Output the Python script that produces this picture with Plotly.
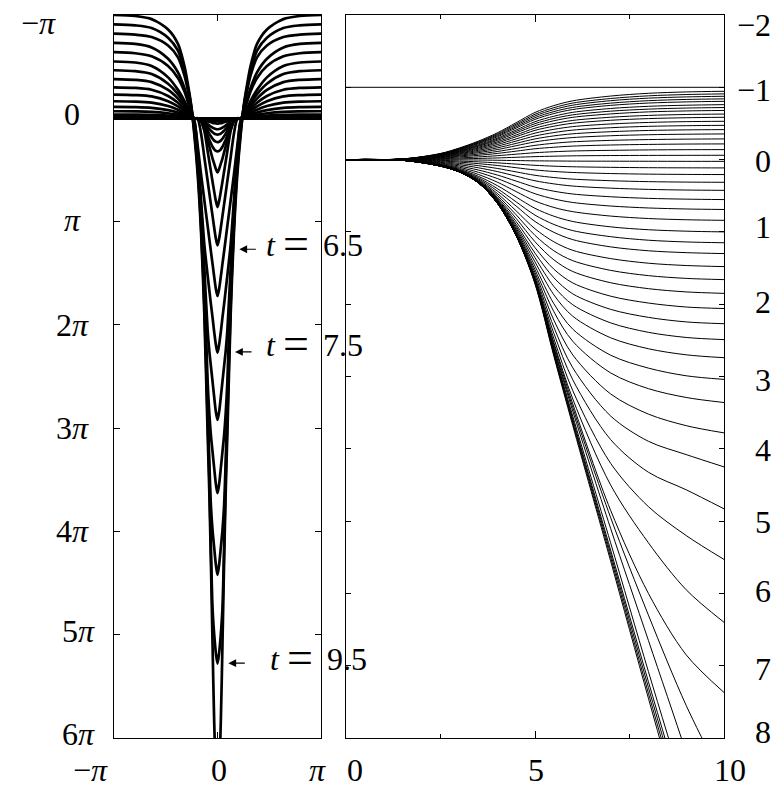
import math
import plotly.graph_objects as go

PI = math.pi

# ---------------- left panel data (x in radians, y in units of pi) ----------------
LEFT_TIMES = [0, 0.5, 1, 1.5, 2, 2.5, 3, 3.5, 4, 4.5, 5, 5.5, 6, 6.5, 7, 7.5, 8, 8.5, 9, 9.5, 10]
LEFT_X_HALF = [0, 0.05, 0.1, 0.15, 0.2, 0.25, 0.3, 0.4, 0.5, 0.6, 0.7, 0.8, 0.9, 1.0, 1.2, 1.5, 2.0, 2.5, 3.14159265]
LEFT_Y_HALF = [
    [0] * 19,
    [0.002, 0.002, 0.002, 0.002, 0.002, 0.001, 0.001, 0.001, 0, 0, 0, 0, 0, 0, 0, 0, 0, 0, 0],
    [0.005, 0.005, 0.005, 0.004, 0.004, 0.003, 0.003, 0.001, 0, 0, 0, 0, 0, 0, 0, 0, 0, 0, 0],
    [0.01, 0.01, 0.009, 0.009, 0.008, 0.006, 0.005, 0.003, 0.001, 0, 0, 0, 0, 0, 0, 0, 0, 0, 0],
    [0.015, 0.015, 0.014, 0.013, 0.011, 0.01, 0.008, 0.004, 0.001, 0, 0, 0, 0, 0, 0, 0, 0, 0, 0],
    [0.025, 0.025, 0.023, 0.022, 0.019, 0.016, 0.013, 0.007, 0.002, 0, 0, 0, 0, 0, 0, 0, 0, 0, 0],
    [0.051, 0.05, 0.048, 0.044, 0.039, 0.033, 0.027, 0.014, 0.005, 0, 0, -0.001, -0.002, -0.004, -0.007, -0.009, -0.012, -0.013, -0.013],
    [0.106, 0.104, 0.099, 0.091, 0.081, 0.069, 0.056, 0.03, 0.01, 0, 0, -0.003, -0.006, -0.011, -0.018, -0.026, -0.033, -0.035, -0.036],
    [0.158, 0.155, 0.148, 0.136, 0.12, 0.103, 0.083, 0.044, 0.014, 0, 0, -0.005, -0.012, -0.02, -0.034, -0.049, -0.063, -0.067, -0.068],
    [0.23, 0.226, 0.216, 0.198, 0.175, 0.149, 0.121, 0.064, 0.021, 0.001, 0, -0.009, -0.02, -0.033, -0.055, -0.079, -0.101, -0.108, -0.11],
    [0.32, 0.315, 0.30, 0.276, 0.243, 0.208, 0.168, 0.089, 0.029, 0.001, 0, -0.013, -0.03, -0.05, -0.083, -0.119, -0.152, -0.162, -0.165],
    [0.525, 0.49, 0.44, 0.39, 0.33, 0.27, 0.21, 0.11, 0.03, 0, 0, -0.018, -0.041, -0.069, -0.115, -0.166, -0.212, -0.225, -0.23],
    [0.86, 0.80, 0.71, 0.614, 0.516, 0.416, 0.316, 0.12, 0.02, 0, 0, -0.024, -0.054, -0.09, -0.15, -0.216, -0.276, -0.294, -0.30],
    [1.23, 1.165, 1.06, 0.947, 0.834, 0.72, 0.605, 0.377, 0.147, 0.01, 0, -0.03, -0.068, -0.114, -0.19, -0.274, -0.35, -0.372, -0.38],
    [1.72, 1.65, 1.535, 1.41, 1.29, 1.165, 1.04, 0.793, 0.54, 0.27, 0.03, -0.037, -0.084, -0.14, -0.233, -0.335, -0.428, -0.456, -0.465],
    [2.27, 2.19, 2.07, 1.93, 1.80, 1.66, 1.52, 1.22, 0.79, 0.34, 0.03, -0.044, -0.10, -0.165, -0.275, -0.396, -0.506, -0.54, -0.55],
    [2.92, 2.84, 2.70, 2.55, 2.40, 2.25, 2.05, 1.45, 0.85, 0.38, 0.05, -0.07, -0.16, -0.256, -0.39, -0.506, -0.60, -0.63, -0.64],
    [3.63, 3.54, 3.39, 3.23, 3.07, 2.85, 2.55, 1.6, 0.91, 0.42, 0.08, -0.07, -0.18, -0.29, -0.445, -0.577, -0.686, -0.72, -0.73],
    [4.42, 4.32, 4.16, 3.99, 3.75, 3.3, 2.78, 1.7, 0.97, 0.46, 0.11, -0.11, -0.27, -0.41, -0.59, -0.705, -0.787, -0.81, -0.82],
    [5.28, 5.175, 5.0, 4.75, 4.15, 3.45, 2.9, 1.8, 1.04, 0.5, 0.14, -0.12, -0.30, -0.455, -0.655, -0.78, -0.874, -0.90, -0.91],
    [6.4, 6.28, 5.85, 5.1, 4.3, 3.6, 3.05, 1.9, 1.1, 0.55, 0.17, -0.13, -0.33, -0.5, -0.72, -0.86, -0.96, -0.99, -1.0],
]
LEFT_YTICKS = [-1, 0, 1, 2, 3, 4, 5, 6]
LEFT_YTICK_TEXT = ["\u2212<i>\u03c0</i>", "0", "<i>\u03c0</i>", "2<i>\u03c0</i>", "3<i>\u03c0</i>",
                   "4<i>\u03c0</i>", "5<i>\u03c0</i>", "6<i>\u03c0</i>"]
LEFT_XTICKS = [-PI, 0, PI]
LEFT_XTICK_TEXT = ["\u2212<i>\u03c0</i>", "0", "<i>\u03c0</i>"]
LABELLED_TIMES = ["6.5", "7.5", "9.5"]

# ---------------- right panel data ----------------
RIGHT_X = [0, 1.5, 2.5, 3, 3.5, 4, 4.5, 5, 5.5, 6, 7, 8, 9, 10]
RIGHT_Y = [
    [0, -0.009, -0.085, -0.161, -0.255, -0.369, -0.51, -0.652, -0.747, -0.813, -0.879, -0.917, -0.936, -0.945],
    [0, -0.009, -0.082, -0.155, -0.245, -0.355, -0.491, -0.627, -0.718, -0.782, -0.845, -0.882, -0.9, -0.909],
    [0, -0.009, -0.079, -0.149, -0.237, -0.342, -0.473, -0.604, -0.692, -0.753, -0.815, -0.85, -0.867, -0.876],
    [0, -0.008, -0.076, -0.143, -0.227, -0.328, -0.454, -0.58, -0.664, -0.722, -0.781, -0.815, -0.832, -0.84],
    [0, -0.008, -0.073, -0.137, -0.218, -0.314, -0.435, -0.556, -0.637, -0.693, -0.75, -0.782, -0.798, -0.806],
    [0, -0.008, -0.068, -0.129, -0.205, -0.296, -0.41, -0.524, -0.6, -0.654, -0.707, -0.737, -0.752, -0.76],
    [0, -0.007, -0.065, -0.122, -0.194, -0.281, -0.389, -0.497, -0.569, -0.619, -0.67, -0.698, -0.713, -0.72],
    [0, -0.007, -0.061, -0.116, -0.184, -0.265, -0.367, -0.469, -0.537, -0.585, -0.632, -0.66, -0.673, -0.68],
    [0, -0.006, -0.057, -0.107, -0.17, -0.246, -0.34, -0.435, -0.498, -0.542, -0.586, -0.611, -0.624, -0.63],
    [0, -0.006, -0.053, -0.099, -0.158, -0.228, -0.316, -0.404, -0.462, -0.503, -0.544, -0.567, -0.579, -0.585],
    [0, -0.005, -0.048, -0.09, -0.143, -0.207, -0.286, -0.366, -0.419, -0.456, -0.493, -0.514, -0.525, -0.53],
    [0, -0.005, -0.043, -0.081, -0.128, -0.185, -0.256, -0.327, -0.374, -0.408, -0.441, -0.46, -0.469, -0.474],
    [0, -0.004, -0.037, -0.071, -0.112, -0.162, -0.224, -0.286, -0.328, -0.357, -0.386, -0.403, -0.411, -0.415],
    [0, -0.004, -0.032, -0.06, -0.096, -0.138, -0.192, -0.245, -0.28, -0.305, -0.33, -0.344, -0.351, -0.355],
    [0, -0.003, -0.026, -0.049, -0.077, -0.112, -0.154, -0.197, -0.226, -0.246, -0.266, -0.277, -0.283, -0.286],
    [0, -0.002, -0.02, -0.037, -0.059, -0.085, -0.117, -0.15, -0.171, -0.187, -0.202, -0.21, -0.215, -0.217],
    [0, -0.001, -0.012, -0.023, -0.037, -0.054, -0.075, -0.095, -0.109, -0.119, -0.128, -0.134, -0.137, -0.138],
    [0, -0.001, -0.005, -0.01, -0.016, -0.023, -0.032, -0.041, -0.047, -0.052, -0.056, -0.058, -0.059, -0.06],
    [0, 0, 0.002, 0.004, 0.006, 0.009, 0.013, 0.017, 0.019, 0.021, 0.022, 0.023, 0.024, 0.024],
    [0, 0.001, 0.01, 0.02, 0.031, 0.045, 0.062, 0.079, 0.091, 0.099, 0.107, 0.112, 0.114, 0.115],
    [0, 0.002, 0.019, 0.035, 0.056, 0.081, 0.112, 0.143, 0.164, 0.178, 0.193, 0.201, 0.205, 0.207],
    [0, 0.003, 0.028, 0.053, 0.084, 0.122, 0.170, 0.217, 0.248, 0.270, 0.292, 0.305, 0.311, 0.314],
    [0, 0.004, 0.038, 0.071, 0.113, 0.165, 0.229, 0.293, 0.336, 0.366, 0.395, 0.412, 0.421, 0.425],
    [0, 0.005, 0.047, 0.089, 0.144, 0.213, 0.297, 0.381, 0.437, 0.476, 0.514, 0.536, 0.547, 0.553],
    [0, 0.006, 0.056, 0.106, 0.175, 0.261, 0.367, 0.472, 0.544, 0.593, 0.642, 0.669, 0.683, 0.69],
    [0, 0.007, 0.065, 0.122, 0.205, 0.311, 0.442, 0.572, 0.662, 0.72, 0.781, 0.815, 0.832, 0.84],
    [0, 0.008, 0.071, 0.135, 0.231, 0.359, 0.517, 0.674, 0.783, 0.856, 0.93, 0.97, 0.99, 1.0],
    [0, 0.008, 0.074, 0.144, 0.25, 0.40, 0.584, 0.768, 0.897, 0.982, 1.066, 1.115, 1.139, 1.15],
    [0, 0.009, 0.077, 0.150, 0.266, 0.433, 0.642, 0.856, 1.006, 1.107, 1.207, 1.261, 1.287, 1.3],
    [0, 0.009, 0.08, 0.155, 0.279, 0.467, 0.708, 0.957, 1.137, 1.255, 1.369, 1.433, 1.465, 1.48],
    [0, 0.009, 0.082, 0.159, 0.288, 0.494, 0.763, 1.048, 1.261, 1.398, 1.532, 1.605, 1.643, 1.66],
    [0, 0.009, 0.083, 0.162, 0.296, 0.516, 0.813, 1.136, 1.387, 1.548, 1.703, 1.785, 1.83, 1.85],
    [0, 0.01, 0.084, 0.164, 0.302, 0.535, 0.857, 1.218, 1.516, 1.706, 1.889, 1.984, 2.039, 2.06],
    [0, 0.01, 0.085, 0.165, 0.306, 0.547, 0.894, 1.294, 1.635, 1.857, 2.071, 2.182, 2.245, 2.27],
    [0, 0.01, 0.086, 0.166, 0.309, 0.558, 0.922, 1.357, 1.755, 2.008, 2.258, 2.389, 2.46, 2.49],
    [0, 0.01, 0.087, 0.167, 0.312, 0.568, 0.947, 1.416, 1.871, 2.167, 2.464, 2.616, 2.70, 2.74],
    [0, 0.01, 0.087, 0.168, 0.314, 0.576, 0.97, 1.474, 1.994, 2.345, 2.705, 2.884, 2.99, 3.04],
    [0, 0.01, 0.088, 0.169, 0.315, 0.581, 0.989, 1.523, 2.104, 2.514, 2.95, 3.168, 3.29, 3.36],
    [0, 0.01, 0.088, 0.169, 0.316, 0.587, 1.006, 1.564, 2.221, 2.702, 3.241, 3.52, 3.68, 3.78],
    [0, 0.01, 0.089, 0.17, 0.317, 0.591, 1.017, 1.601, 2.319, 2.88, 3.546, 3.896, 4.08, 4.25],
    [0, 0.01, 0.089, 0.17, 0.318, 0.594, 1.028, 1.632, 2.404, 3.046, 3.872, 4.324, 4.567, 4.83],
    [0, 0.01, 0.089, 0.17, 0.318, 0.596, 1.035, 1.652, 2.478, 3.197, 4.2, 4.8, 5.2, 5.53],
    [0, 0.01, 0.09, 0.17, 0.319, 0.597, 1.041, 1.668, 2.533, 3.312, 4.5, 5.3, 5.95, 6.4],
    [0, 0.01, 0.09, 0.17, 0.319, 0.598, 1.044, 1.675, 2.56, 3.38, 4.85, 6.0, 6.85, 7.37],
    [0, 0.01, 0.09, 0.17, 0.32, 0.599, 1.046, 1.68, 2.6, 3.43, 4.95, 6.3, 7.55, 8.6],
    [0, 0.01, 0.09, 0.17, 0.32, 0.6, 1.047, 1.69, 2.62, 3.48, 5.1, 6.65, 8.2, 9.8],
    [0, 0.01, 0.09, 0.17, 0.32, 0.6, 1.048, 1.69, 2.65, 3.55, 5.3, 7.08, 8.8, 10.5],
    [0, 0.01, 0.09, 0.17, 0.32, 0.6, 1.049, 1.70, 2.67, 3.59, 5.4, 7.22, 9.0, 10.8],
    [0, 0.01, 0.09, 0.17, 0.32, 0.6, 1.05, 1.70, 2.69, 3.62, 5.45, 7.3, 9.1, 10.9],
    [0, 0.01, 0.09, 0.17, 0.32, 0.6, 1.05, 1.71, 2.70, 3.65, 5.5, 7.38, 9.2, 11.0],
    [0, 0.01, 0.09, 0.17, 0.32, 0.6, 1.05, 1.72, 2.72, 3.68, 5.55, 7.45, 9.3, 11.1],
]
RIGHT_ASYMPTOTE = -1
RIGHT_YTICKS = [-2, -1, 0, 1, 2, 3, 4, 5, 6, 7, 8]
RIGHT_YTICK_TEXT = ["\u22122", "\u22121", "0", "1", "2", "3", "4", "5", "6", "7", "8"]
RIGHT_XTICKS = [0, 5, 10]
RIGHT_XTICK_TEXT = ["0", "5", "10"]

# ---------------- figure ----------------
W, H = 781, 790
FAM = "Liberation Serif, DejaVu Serif, serif"
FONT = dict(family=FAM, size=32, color="black")

fig = go.Figure()

for prof in LEFT_Y_HALF:
    xs = [-x for x in LEFT_X_HALF[:0:-1]] + LEFT_X_HALF
    ys = prof[:0:-1] + prof
    fig.add_trace(go.Scatter(x=xs, y=ys, mode="lines", xaxis="x", yaxis="y",
                             line=dict(color="black", width=2.7, shape="spline", smoothing=0.8),
                             showlegend=False, hoverinfo="skip"))

fig.add_trace(go.Scatter(x=[RIGHT_X[0], RIGHT_X[-1]], y=[RIGHT_ASYMPTOTE, RIGHT_ASYMPTOTE], mode="lines",
                         xaxis="x2", yaxis="y2", line=dict(color="black", width=1),
                         showlegend=False, hoverinfo="skip"))
for ys in RIGHT_Y:
    fig.add_trace(go.Scatter(x=RIGHT_X, y=ys, mode="lines", xaxis="x2", yaxis="y2",
                             line=dict(color="black", width=1, shape="spline", smoothing=0.9),
                             showlegend=False, hoverinfo="skip"))

ydom = [1 - 738 / H, 1 - 15 / H]
axis_common = dict(showline=True, linecolor="black", linewidth=1, mirror="allticks", ticks="inside",
                   tickcolor="black", tickwidth=1, showgrid=False, zeroline=False, showticklabels=False)
fig.update_layout(
    width=W, height=H, margin=dict(l=0, r=0, t=0, b=0),
    paper_bgcolor="white", plot_bgcolor="white", showlegend=False,
    xaxis=dict(domain=[114 / W, 321 / W], range=[-PI, PI], tickvals=LEFT_XTICKS, ticklen=6, anchor="y", **axis_common),
    yaxis=dict(domain=ydom, range=[6, -1], tickvals=LEFT_YTICKS, ticklen=6, anchor="x", **axis_common),
    xaxis2=dict(domain=[346 / W, 724 / W], range=[0, 10], tickvals=RIGHT_XTICKS, ticklen=7, anchor="y2",
                minor=dict(dtick=2.5, ticklen=4, ticks="inside", tickcolor="black", showgrid=False), **axis_common),
    yaxis2=dict(domain=ydom, range=[8, -2], tickvals=RIGHT_YTICKS, ticklen=5, anchor="x2", **axis_common),
)

ann = []
# left y tick labels: (xanchor, x_px, yshift)
left_y_pos = {
    -1: ("right", 58, -8), 0: ("left", 62, 4), 1: ("left", 62, 2), 2: ("left", 54, 0), 3: ("left", 54, 0),
    4: ("left", 54, 0), 5: ("left", 60, 4), 6: ("left", 60, 4),
}
for v, txt in zip(LEFT_YTICKS, LEFT_YTICK_TEXT):
    xa, xp, ys = left_y_pos[v]
    ann.append(dict(text=txt, xref="paper", x=xp / W, xanchor=xa, yref="y", y=v, yanchor="middle",
                    yshift=ys, showarrow=False, font=FONT))
# right y tick labels
right_shift = {-2: -10, -1: -3, 0: -1, 1: 5, 2: 2, 3: -3, 4: -1, 5: -1, 6: 2, 7: -3, 8: 6}
for v, txt in zip(RIGHT_YTICKS, RIGHT_YTICK_TEXT):
    ann.append(dict(text=txt, xref="paper", x=773 / W, xanchor="right", yref="y2", y=v, yanchor="middle",
                    yshift=right_shift[v], showarrow=False, font=FONT))
# bottom tick labels (kept inside the page)
for txt, xp in zip(LEFT_XTICK_TEXT + RIGHT_XTICK_TEXT, [90, 219, 317, 355, 536, 730]):
    ann.append(dict(text=txt, xref="paper", x=xp / W, xanchor="center", yref="paper", y=0,
                    yanchor="bottom", showarrow=False, font=FONT))
# time labels (t, =, value placed as in the reference) with arrows
label_spots = [  # (t_left, eq_center, value_left, box_center_y, head_x, head_y)
    (264, 296, 321, 245, 0.663, 1.268),
    (264, 296, 321, 345, 0.532, 2.262),
    (268, 300, 325, 659, 0.328, 5.276),
]
for tl, (tx, ex, vx, ly, hx, hy) in zip(LABELLED_TIMES, label_spots):
    yp = 1 - ly / H
    ann.append(dict(text="<i>t</i>", xref="paper", x=tx / W, xanchor="left", yref="paper", y=yp,
                    yanchor="middle", showarrow=False, font=FONT))
    ann.append(dict(text="=", xref="paper", x=ex / W, xanchor="center", yref="paper", y=yp,
                    yanchor="middle", showarrow=False, font=dict(family=FAM, size=46, color="black"),
                    yshift=2))
    ann.append(dict(text=tl, xref="paper", x=vx / W, xanchor="left", yref="paper", y=yp,
                    yanchor="middle", showarrow=False, font=FONT))
    ann.append(dict(text="", xref="x", yref="y", x=hx, y=hy, ax=18, ay=0, showarrow=True,
                    arrowhead=2, arrowsize=1.3, arrowwidth=1.2, arrowcolor="black", standoff=0))
fig.update_layout(annotations=ann)

fig.write_html("out.html")
